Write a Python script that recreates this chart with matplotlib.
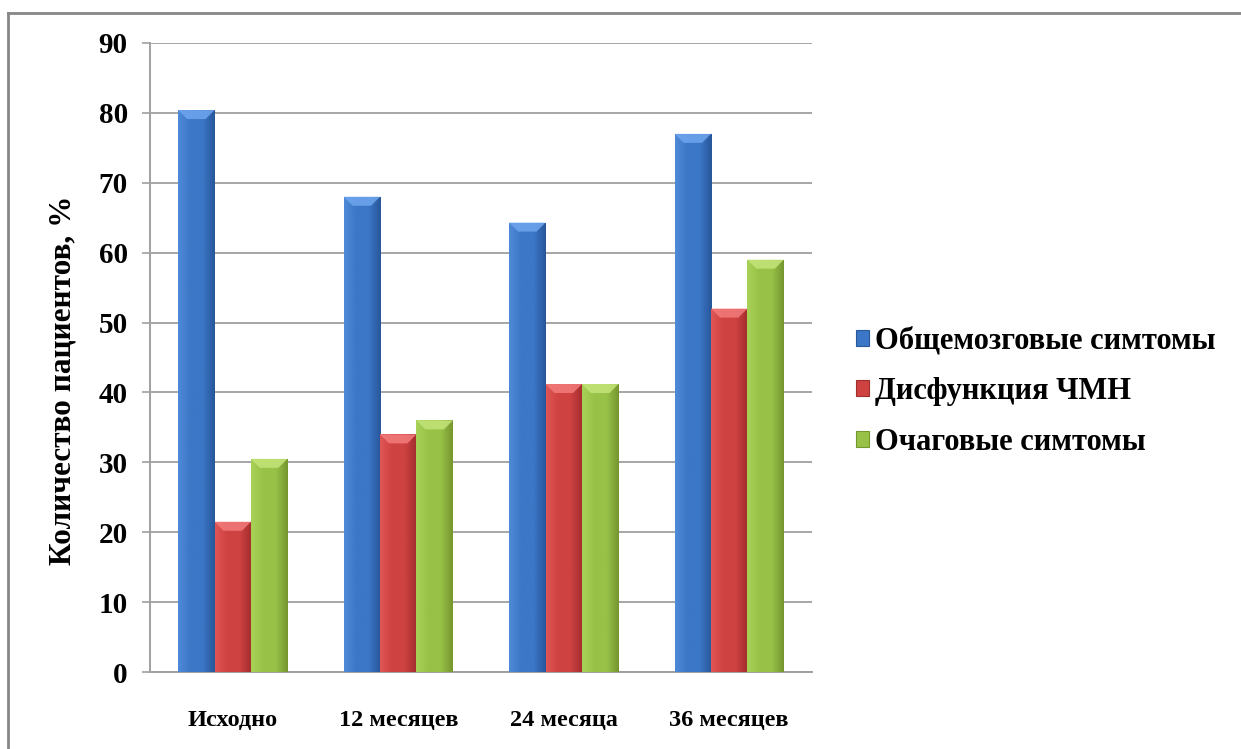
import numpy as np
import matplotlib.pyplot as plt
from matplotlib.patches import Patch, Polygon
from matplotlib.colors import LinearSegmentedColormap
from matplotlib.lines import Line2D

plt.rcParams['font.family'] = ['Liberation Serif', 'DejaVu Serif']
plt.rcParams['font.weight'] = 'bold'

periods = ["Исходно", "12 месяцев", "24 месяца", "36 месяцев"]
series_names = ["Общемозговые симтомы", "Дисфункция ЧМН", "Очаговые симтомы"]
general = [80.4, 68.0, 64.3, 77.0]
cranial = [21.5, 34.0, 41.2, 52.0]
focal = [30.5, 36.0, 41.2, 59.0]
values = [general, cranial, focal]

# (left highlight, body, right shade, top bevel)
palette = [
    ("#4f8ad8", "#3b77c6", "#28579a", "#6fa6ee"),
    ("#e05555", "#cf4242", "#a22d2d", "#f37c7c"),
    ("#a8d158", "#98c247", "#76962f", "#c4e57a"),
]

fig = plt.figure(figsize=(12.41, 7.49), dpi=100)
ax = fig.add_axes([0.1209, 0.1028, 0.5334, 0.8398])

W_PX = 0.5334 * 1241
H_PX = 0.8398 * 749
ymax = 90
ncat = len(periods)
x = np.arange(ncat)
bw = 0.22
ax.set_xlim(-0.5, ncat - 0.5)
ax.set_ylim(0, ymax)

# pixel sizes converted to data units
px_x = ncat / W_PX
px_y = ymax / H_PX
bevel = 9

for i, (vals, cols) in enumerate(zip(values, palette)):
    cmap = LinearSegmentedColormap.from_list(
        f"bar{i}", [cols[0], cols[1], cols[1], cols[2]])
    grad = np.linspace(0, 1, 64).reshape(1, -1)
    xs = x + (i - 1) * bw
    bars = ax.bar(xs, vals, width=bw, color=cols[1], edgecolor="none",
                  zorder=3)
    for b, v in zip(bars, vals):
        x0 = b.get_x()
        x1 = x0 + b.get_width()
        im = ax.imshow(grad, cmap=cmap, aspect="auto",
                       extent=(x0, x1, 0, v), zorder=3.5)
        im.set_clip_path(b)
        top = Polygon([(x0, v), (x1, v),
                       (x1 - bevel * px_x, v - bevel * px_y),
                       (x0 + bevel * px_x, v - bevel * px_y)],
                      closed=True, facecolor=cols[3], edgecolor="none",
                      alpha=0.85, zorder=4)
        ax.add_patch(top)

ax.set_xlim(-0.5, ncat - 0.5)
ax.set_ylim(0, ymax)
ax.set_yticks(range(0, 91, 10))
ax.yaxis.grid(True, color="#a6a6a6", linewidth=1.4, zorder=0)
ax.set_axisbelow(True)
for side in ("top", "right"):
    ax.spines[side].set_visible(False)
for side in ("left", "bottom"):
    ax.spines[side].set_color("#a0a0a0")
    ax.spines[side].set_linewidth(1.4)

ax.set_xticks(x)
ax.set_xticklabels(periods, fontsize=17.5, fontweight="bold")
ax.tick_params(axis="x", length=0, pad=27)
ax.tick_params(axis="y", length=6, width=1.2, color="#a0a0a0",
               labelsize=21, pad=10)
for lab in ax.get_yticklabels():
    lab.set_fontweight("bold")

ax.set_ylabel("Количество пациентов, %", fontsize=22.5, fontweight="bold")
ax.yaxis.set_label_coords(-0.11, 0.463)

handles = [Patch(facecolor=c[1], edgecolor=c[2], linewidth=0.8)
           for c in palette]
fig.legend(handles, series_names, loc="center left",
           bbox_to_anchor=(0.668, 0.477), frameon=False,
           prop={"size": 22, "weight": "bold"},
           handlelength=0.42, handleheight=0.42, handletextpad=0.2,
           labelspacing=0.7)

# chart frame
fig.add_artist(Line2D([8 / 1241, 8 / 1241], [0, 1 - 13 / 749],
                      transform=fig.transFigure, color="#868686", lw=2))
fig.add_artist(Line2D([8 / 1241, 1], [1 - 13 / 749, 1 - 13 / 749],
                      transform=fig.transFigure, color="#868686", lw=2))

fig.savefig("out.png", dpi=100)
